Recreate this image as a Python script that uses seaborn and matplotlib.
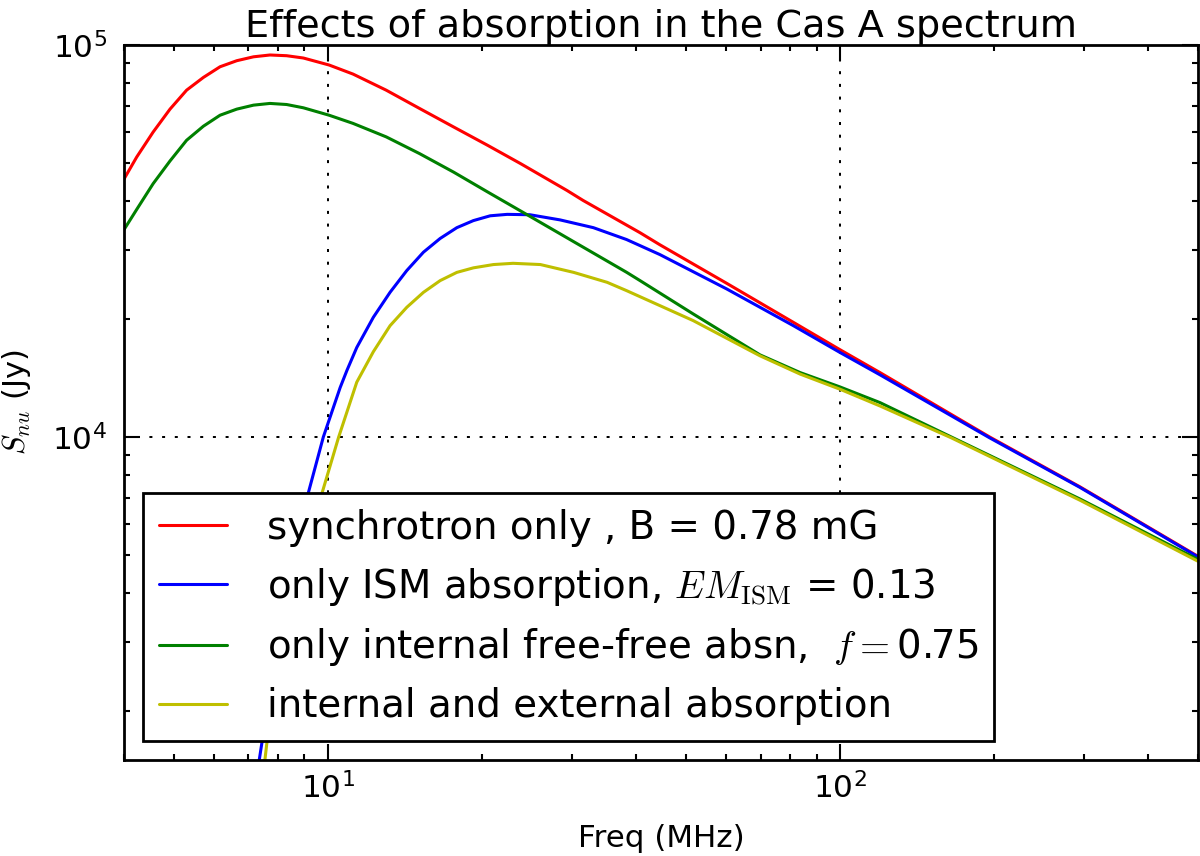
import matplotlib
matplotlib.use("Agg")
import matplotlib.pyplot as plt
import seaborn as sns
from matplotlib.ticker import NullFormatter

# ---- data (Freq in MHz, S_nu in Jy) ----
freq_sync = [4.0, 4.236, 4.56, 4.919, 5.30, 5.715, 6.16, 6.64, 7.16, 7.71, 8.31, 8.96,
             10.06, 11.2, 13.0, 15.1, 17.6, 20.5, 23.8, 29.3, 31.5, 40.7, 44.5, 60.1,
             81.1, 100, 119.7, 196, 294, 500]
flux_sync = [45500, 51810, 59970, 68610, 76700, 82650, 88000, 91180, 93300, 94300, 93900, 92640,
             88900, 84300, 76700, 68900, 61800, 55500, 49800, 42560, 40140, 33200, 30930, 24660,
             19610, 16700, 14600, 10000, 7465, 4960]

freq_ism = [7.30, 7.43, 9.16, 9.8, 10.57, 10.9, 11.39, 12.27, 13.23, 14.26, 15.37, 16.57,
            17.86, 19.24, 20.75, 22.4, 24.8, 28.4, 33.0, 38.3, 44.5, 51.7, 60.1, 81.1,
            100, 119.7, 196, 294, 500]
flux_ism = [1420, 1650, 7200, 10000, 13370, 14800, 16920, 20200, 23400, 26580, 29610, 32100,
            34200, 35650, 36670, 36980, 36900, 35800, 34200, 31900, 29200, 26400, 23860, 19230,
            16430, 14410, 9950, 7440, 4943]

freq_int = [4.0, 4.236, 4.56, 4.919, 5.30, 5.715, 6.16, 6.64, 7.16, 7.71, 8.31, 8.96,
            10.06, 11.2, 13.0, 15.1, 17.6, 20.5, 24.5, 28.4, 30.2, 38.3, 40.7, 51.7,
            69.8, 83.6, 100, 119.7, 165, 294, 500]
flux_int = [33800, 38080, 44290, 50600, 57150, 62060, 66200, 68610, 70240, 70950, 70500, 69150,
            66200, 63100, 58300, 52850, 47400, 42200, 36900, 33000, 31500, 26320, 25060, 20600,
            16200, 14600, 13420, 12240, 10000, 6950, 4870]

freq_both = [7.50, 7.60, 9.73, 10.5, 11.39, 12.27, 13.23, 14.26, 15.37, 16.57, 17.86, 19.24,
             21.06, 23.0, 26.0, 30.2, 35.1, 38.3, 40.7, 51.7, 69.8, 83.6, 100, 119.7,
             165, 294, 500]
flux_both = [1420, 1650, 7150, 10000, 13800, 16500, 19230, 21420, 23390, 25060, 26300, 27010,
             27540, 27740, 27540, 26300, 24810, 23630, 22800, 19810, 16110, 14470, 13240, 12000,
             9950, 6900, 4820]

labels = ["synchrotron only , B = 0.78 mG",
          r"only ISM absorption, $EM_{\mathrm{ISM}}$ = 0.13",
          r"only internal free-free absn,  $f=$0.75",
          "internal and external absorption"]
colors = ["#ff0000", "#0000ff", "#008000", "#bfbf00"]
title = "Effects of absorption in the Cas A spectrum"
xlabel = "Freq (MHz)"
ylabel = r"$S_{nu}$ (Jy)"

sns.set_theme(style="ticks")
plt.rcParams["font.family"] = ["DejaVu Sans"]
plt.rcParams["mathtext.fontset"] = "cm"
for k in ["text.color", "axes.labelcolor", "xtick.color", "ytick.color", "axes.edgecolor"]:
    plt.rcParams[k] = "black"

fig = plt.figure(figsize=(12, 8.56), dpi=100)
ax = fig.add_axes([124 / 1200, 96 / 856, 1074 / 1200, 715 / 856])

series = [(freq_sync, flux_sync), (freq_ism, flux_ism), (freq_int, flux_int), (freq_both, flux_both)]
for (fx, fy), c, lab in zip(series, colors, labels):
    sns.lineplot(x=fx, y=fy, color=c, linewidth=2.2, label=lab, ax=ax,
                 estimator=None, sort=False)

ax.set_xscale("log")
ax.set_yscale("log")
ax.set_xlim(4, 500)
ax.set_ylim(1500, 1e5)
ax.xaxis.set_minor_formatter(NullFormatter())
ax.yaxis.set_minor_formatter(NullFormatter())

ax.set_axisbelow(True)
ax.grid(True, which="major", color="black", linestyle=(0, (1.5, 4.85)), linewidth=1.44)

ax.tick_params(which="both", direction="in", top=True, right=True, width=1.5, colors="black")
ax.tick_params(which="major", length=11.5, labelsize=22.5)
ax.tick_params(which="minor", length=4.5)
ax.tick_params(axis="x", which="major", pad=8.5)
ax.tick_params(axis="y", which="major", pad=12.2)
for s in ax.spines.values():
    s.set_linewidth(2.0)
    s.set_color("black")

ax.set_title(title, fontsize=27.5, pad=4)
ax.set_xlabel(xlabel, fontsize=22.3)
ax.set_ylabel(ylabel, fontsize=22)
ax.xaxis.set_label_coords(0.5, -0.090)
ax.yaxis.set_label_coords(-0.0847, 0.5)

leg = ax.legend(loc="lower left", fontsize=27.9, frameon=True, fancybox=False,
                edgecolor="black", framealpha=1, borderaxespad=0.5, handlelength=1.75,
                handletextpad=1.05, borderpad=0.4, labelspacing=0.485)
leg.get_frame().set_linewidth(2.0)

fig.savefig("out.png", dpi=100)
